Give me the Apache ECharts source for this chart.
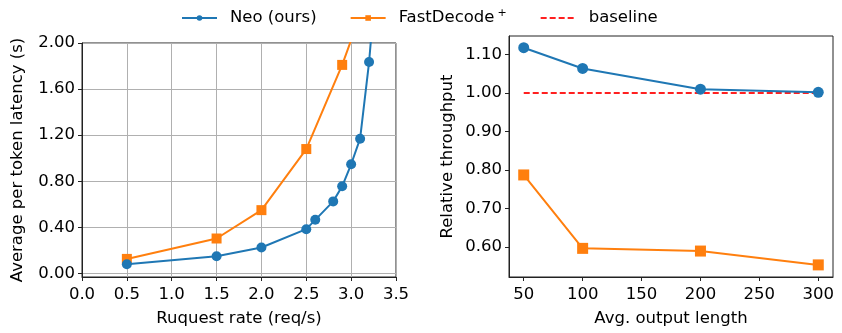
<!DOCTYPE html>
<html>
<head>
<meta charset="utf-8">
<script src="https://cdn.jsdelivr.net/npm/echarts@6/dist/echarts.min.js"></script>
<style>
  html, body { margin: 0; padding: 0; background: #fff; }
  #chart { width: 842px; height: 333px; }
</style>
</head>
<body>
<div id="chart"></div>
<script>
// left panel: latency vs request rate
const neoRate = [0.5, 1.5, 2.0, 2.5, 2.6, 2.8, 2.9, 3.0, 3.1, 3.2, 3.3];
const neoLatency = [0.08, 0.15, 0.226, 0.385, 0.466, 0.626, 0.757, 0.948, 1.17, 1.835, 2.76];
const fdRate = [0.5, 1.5, 2.0, 2.5, 2.9, 3.1];
const fdLatency = [0.127, 0.304, 0.55, 1.08, 1.81, 2.24];
const latencyTicks = [0, 0.4, 0.8, 1.2, 1.6, 2.0];

// right panel: relative throughput vs output length
const outLen = [50, 100, 200, 300];
const neoThroughput = [1.118, 1.064, 1.01, 1.002];
const fdThroughput = [0.787, 0.596, 0.589, 0.553];
const baselineThroughput = [1.0, 1.0, 1.0, 1.0];
const lenTicks = [50, 100, 150, 200, 250, 300];
const throughputTicks = [0.6, 0.7, 0.8, 0.9, 1.0, 1.1];

const FONT = 'DejaVu Sans';
const FS = 16.5;
const BLUE = '#1f77b4', ORANGE = '#ff7f0e', RED = '#ff2020';
const txt = { fontFamily: FONT, fontSize: FS, color: '#000' };

function pairs(xs, ys) { return xs.map((x, i) => [x, ys[i]]); }

const axisCommon = {
  axisLine: { show: true, onZero: false, lineStyle: { color: '#222', width: 1 } },
  axisTick: { show: true, length: 4, lineStyle: { color: '#222' } },
  axisLabel: Object.assign({ margin: 7 }, txt),
  nameTextStyle: txt
};

let myChart = echarts.init(document.getElementById('chart'), null, { renderer: 'canvas' });
let options = {
  animation: false,
  legend: {
    top: 3,
    left: 176,
    itemWidth: 35,
    itemHeight: 7,
    itemGap: 33,
    textStyle: Object.assign({}, txt, {
      padding: [0, 0, 0, 8],
      rich: {
        a: { fontFamily: FONT, fontSize: FS, color: '#000' },
        sup: { fontFamily: FONT, fontSize: 11, color: '#000', verticalAlign: 'top', padding: [0, 0, 9, 3] }
      }
    }),
    data: [
      { name: 'Neo (ours)' },
      { name: 'FastDecode+' },
      { name: 'baseline', itemStyle: { opacity: 0 } }
    ],
    formatter: function (name) {
      if (name === 'FastDecode+') return '{a|FastDecode}{sup|+}';
      return name;
    }
  },
  grid: [
    { left: 82, top: 43, width: 314, height: 234, show: true, borderColor: '#222', borderWidth: 1, containLabel: false },
    { left: 509, top: 36, width: 324, height: 241, show: true, borderColor: '#222', borderWidth: 1, containLabel: false }
  ],
  xAxis: [
    Object.assign({}, axisCommon, {
      gridIndex: 0, type: 'value', min: 0, max: 3.5, interval: 0.5,
      name: 'Ruquest rate (req/s)', nameLocation: 'middle', nameGap: 33,
      axisLabel: Object.assign({ margin: 9, formatter: v => v.toFixed(1) }, txt),
      splitLine: { show: true, lineStyle: { color: '#b0b0b0', width: 1 } }
    }),
    Object.assign({}, axisCommon, {
      gridIndex: 1, type: 'value', min: 37.5, max: 312.5,
      name: 'Avg. output length', nameLocation: 'middle', nameGap: 33,
      axisTick: { show: true, length: 4, lineStyle: { color: '#222' }, customValues: lenTicks },
      axisLabel: Object.assign({ margin: 9, customValues: lenTicks }, txt),
      splitLine: { show: false }
    })
  ],
  yAxis: [
    Object.assign({}, axisCommon, {
      gridIndex: 0, type: 'value', min: -0.03, max: 2.0,
      name: 'Average per token latency (s)', nameLocation: 'middle', nameGap: 56,
      axisTick: { show: true, length: 4, lineStyle: { color: '#222' }, customValues: latencyTicks },
      axisLabel: Object.assign({ margin: 7, customValues: latencyTicks, formatter: v => v.toFixed(2) }, txt),
      splitLine: { show: true, lineStyle: { color: '#b0b0b0', width: 1 } }
    }),
    Object.assign({}, axisCommon, {
      gridIndex: 1, type: 'value', min: 0.5215, max: 1.1485,
      name: 'Relative throughput', nameLocation: 'middle', nameGap: 53,
      axisTick: { show: true, length: 4, lineStyle: { color: '#222' }, customValues: throughputTicks },
      axisLabel: Object.assign({ margin: 7, customValues: throughputTicks, formatter: v => v.toFixed(2) }, txt),
      splitLine: { show: false }
    })
  ],
  series: [
    {
      name: 'Neo (ours)', type: 'line', xAxisIndex: 0, yAxisIndex: 0,
      data: pairs(neoRate, neoLatency), symbol: 'circle', symbolSize: 10,
      lineStyle: { color: BLUE, width: 2 }, itemStyle: { color: BLUE }, clip: true, z: 3
    },
    {
      name: 'FastDecode+', type: 'line', xAxisIndex: 0, yAxisIndex: 0,
      data: pairs(fdRate, fdLatency), symbol: 'rect', symbolSize: 10,
      lineStyle: { color: ORANGE, width: 2 }, itemStyle: { color: ORANGE }, clip: true, z: 2
    },
    {
      name: 'baseline', type: 'line', xAxisIndex: 1, yAxisIndex: 1,
      data: pairs(outLen, baselineThroughput), symbol: 'none',
      lineStyle: { color: RED, width: 2, type: [6, 3] }, itemStyle: { color: RED }, z: 2
    },
    {
      name: 'Neo (ours)', type: 'line', xAxisIndex: 1, yAxisIndex: 1,
      data: pairs(outLen, neoThroughput), symbol: 'circle', symbolSize: 11,
      lineStyle: { color: BLUE, width: 2 }, itemStyle: { color: BLUE }, z: 3
    },
    {
      name: 'FastDecode+', type: 'line', xAxisIndex: 1, yAxisIndex: 1,
      data: pairs(outLen, fdThroughput), symbol: 'rect', symbolSize: 11,
      lineStyle: { color: ORANGE, width: 2 }, itemStyle: { color: ORANGE }, z: 3
    }
  ]
};
myChart.setOption(options);
</script>
</body>
</html>
